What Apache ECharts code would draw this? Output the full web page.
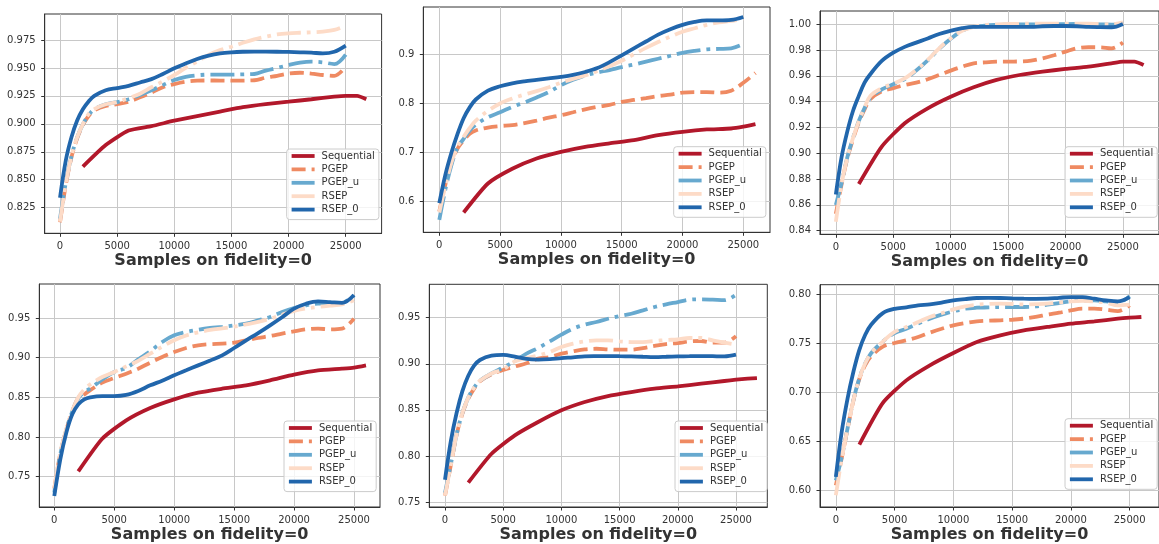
<!DOCTYPE html>
<html><head><meta charset="utf-8">
<script src="https://cdn.jsdelivr.net/npm/echarts@6/dist/echarts.min.js"></script>
<style>html,body{margin:0;padding:0;background:#fff}#c{width:1159px;height:544px}</style>
</head><body><div id="c"></div>
<script>
// ---------------- data ----------------
const SERIES_NAMES = ['Sequential', 'PGEP', 'PGEP_u', 'RSEP', 'RSEP_0'];
const X_TICKS = [0, 5000, 10000, 15000, 20000, 25000];
const X_LABEL = 'Samples on fidelity=0';

const METHOD_X = [0,500,1000,1500,2000,2500,3000,4000,5000,6000,7000,8000,9000,10000,11000,12000,13000,14000,15000,16000,17000,18000,19000,20000,21000,22000,23000,24000,25000];
const METHOD_X_EXT = [0,500,1000,1500,2000,2500,3000,4000,5000,6000,7000,8000,9000,10000,11000,12000,13000,14000,15000,16000,17000,18000,19000,20000,21000,22000,23000,24000,25000,26000];
const SEQ_X_LONG = [2000,4000,6000,8000,10000,12000,14000,16000,18000,20000,22000,24000,25000,26000,26800];
const SEQ_X_SHORT = [2000,4000,6000,8000,10000,12000,14000,16000,18000,20000,22000,24000,25000,26000];

const Y_TICKS_1 = [0.825, 0.85, 0.875, 0.9, 0.925, 0.95, 0.975];
const Y_TICKS_2 = [0.6, 0.7, 0.8, 0.9];
const Y_TICKS_3 = [0.84, 0.86, 0.88, 0.9, 0.92, 0.94, 0.96, 0.98, 1.0];
const Y_TICKS_4 = [0.75, 0.8, 0.85, 0.9, 0.95];
const Y_TICKS_5 = [0.75, 0.8, 0.85, 0.9, 0.95];
const Y_TICKS_6 = [0.6, 0.65, 0.7, 0.75, 0.8];

// panel 1
const P1_SEQ = [0.8617,0.881,0.894,0.898,0.9028,0.907,0.911,0.915,0.9177,0.9198,0.922,0.9243,0.925,0.925,0.922];
const P1_PGEP = [0.812,0.845,0.870,0.887,0.899,0.907,0.912,0.916,0.9177,0.9198,0.9237,0.928,0.9327,0.9356,0.9377,0.9386,0.9388,0.9387,0.9386,0.9387,0.939,0.9413,0.943,0.945,0.9457,0.945,0.9437,0.943,0.9512];
const P1_PGEP_U = [0.815,0.847,0.871,0.888,0.8995,0.908,0.913,0.9175,0.9195,0.922,0.9258,0.930,0.9347,0.9392,0.942,0.9434,0.944,0.944,0.944,0.9443,0.9446,0.9476,0.950,0.9526,0.9547,0.9556,0.955,0.9535,0.962];
const P1_RSEP = [0.8125,0.846,0.871,0.888,0.8997,0.9087,0.9132,0.9175,0.9195,0.923,0.927,0.9327,0.938,0.9437,0.950,0.9556,0.9616,0.966,0.969,0.9725,0.9756,0.978,0.980,0.981,0.9815,0.9819,0.9825,0.984,0.988];
const P1_RSEP_0 = [0.834,0.867,0.888,0.903,0.913,0.920,0.925,0.930,0.932,0.934,0.937,0.940,0.9446,0.9497,0.954,0.958,0.961,0.963,0.964,0.9645,0.9646,0.9646,0.9645,0.9643,0.964,0.9637,0.963,0.9645,0.970];

// panel 2
const P2_SEQ = [0.578,0.637,0.667,0.688,0.7014,0.7116,0.7187,0.7254,0.7355,0.7423,0.747,0.749,0.7527,0.758];
const P2_PGEP = [0.58,0.635,0.68,0.708,0.725,0.738,0.745,0.751,0.754,0.756,0.76,0.765,0.771,0.776,0.782,0.788,0.793,0.797,0.803,0.807,0.811,0.815,0.818,0.822,0.823,0.823,0.822,0.826,0.842,0.862];
const P2_PGEP_U = [0.563,0.625,0.675,0.71,0.728,0.745,0.757,0.772,0.782,0.793,0.802,0.812,0.823,0.837,0.848,0.857,0.863,0.868,0.874,0.879,0.885,0.891,0.897,0.903,0.907,0.910,0.911,0.912,0.921];
const P2_RSEP = [0.578,0.632,0.68,0.712,0.732,0.75,0.765,0.785,0.8,0.81,0.818,0.825,0.833,0.842,0.85,0.857,0.866,0.876,0.887,0.9,0.913,0.925,0.936,0.946,0.953,0.96,0.965,0.968,0.972];
const P2_RSEP_0 = [0.597,0.655,0.70,0.738,0.77,0.792,0.808,0.826,0.835,0.841,0.845,0.848,0.851,0.854,0.858,0.864,0.872,0.884,0.898,0.912,0.926,0.94,0.951,0.96,0.966,0.969,0.969,0.970,0.976];

// panel 3
const P3_SEQ = [0.8762,0.9052,0.9233,0.9349,0.9439,0.9512,0.9569,0.9607,0.9633,0.9654,0.9672,0.9698,0.9711,0.9711,0.9685];
const P3_PGEP = [0.853,0.876,0.896,0.911,0.924,0.934,0.942,0.948,0.9505,0.953,0.9548,0.9574,0.9607,0.9641,0.9672,0.9698,0.9705,0.971,0.9711,0.9712,0.9718,0.9736,0.976,0.9788,0.9814,0.9822,0.9822,0.9814,0.9858];
const P3_PGEP_U = [0.86,0.877,0.897,0.912,0.925,0.935,0.943,0.9495,0.9535,0.9575,0.9642,0.972,0.981,0.9888,0.995,0.998,0.999,0.9995,0.9998,1.0,1.0,1.0,1.0,1.0002,1.0003,1.0002,1.0,0.9998,1.0005];
const P3_RSEP = [0.847,0.876,0.897,0.912,0.925,0.9355,0.9445,0.9505,0.954,0.958,0.9646,0.9724,0.9814,0.989,0.995,0.998,0.9995,1.0,1.0003,1.0004,1.0005,1.0005,1.0005,1.0005,1.0006,1.0005,1.0002,1.0,1.0015];
const P3_RSEP_0 = [0.868,0.897,0.917,0.933,0.9445,0.9548,0.9613,0.9716,0.978,0.9825,0.9858,0.989,0.9925,0.995,0.997,0.998,0.998,0.998,0.998,0.998,0.998,0.9985,0.9987,0.9987,0.9985,0.998,0.9978,0.9977,1.0003];

// panel 4
const P4_SEQ = [0.7567,0.7979,0.821,0.8366,0.8475,0.8559,0.8609,0.8651,0.8714,0.8786,0.884,0.8861,0.8874,0.8903];
const P4_PGEP = [0.735,0.779,0.809,0.832,0.849,0.8538,0.8592,0.8685,0.8744,0.8798,0.8861,0.8937,0.9008,0.9071,0.9122,0.9155,0.917,0.9176,0.9189,0.9218,0.9248,0.9273,0.9303,0.9332,0.9357,0.9366,0.9357,0.9366,0.9492];
const P4_PGEP_U = [0.73,0.778,0.809,0.832,0.849,0.857,0.861,0.8727,0.882,0.887,0.8979,0.908,0.9197,0.9282,0.9324,0.9353,0.9374,0.9387,0.9408,0.9429,0.947,0.9513,0.9576,0.9626,0.966,0.968,0.968,0.969,0.9786];
const P4_RSEP = [0.735,0.78,0.81,0.833,0.85,0.86,0.8664,0.8756,0.882,0.889,0.896,0.905,0.914,0.922,0.928,0.932,0.935,0.937,0.939,0.942,0.945,0.949,0.954,0.959,0.962,0.9639,0.9655,0.967,0.9723];
const P4_RSEP_0 = [0.7256,0.7718,0.8054,0.8286,0.8412,0.8475,0.85,0.8515,0.8515,0.853,0.858,0.8651,0.871,0.8777,0.884,0.8903,0.8965,0.9029,0.9122,0.9218,0.931,0.9408,0.951,0.9618,0.968,0.971,0.970,0.969,0.979];

// panel 5
const P5_SEQ = [0.771,0.8024,0.8223,0.8368,0.8495,0.8585,0.865,0.8693,0.873,0.8755,0.8784,0.8813,0.8827,0.8838,0.8845];
const P5_PGEP = [0.757,0.79,0.823,0.846,0.862,0.873,0.881,0.8885,0.8932,0.897,0.9005,0.9055,0.9073,0.911,0.9135,0.9156,0.9163,0.9156,0.9153,0.9153,0.917,0.9193,0.9214,0.9225,0.9243,0.9247,0.9229,0.9229,0.9301];
const P5_PGEP_U = [0.76,0.791,0.8233,0.847,0.8633,0.8742,0.8815,0.8895,0.896,0.903,0.911,0.9171,0.9243,0.9316,0.9381,0.9424,0.9453,0.9489,0.9518,0.9543,0.958,0.9616,0.9645,0.967,0.9696,0.97,0.9696,0.969,0.975];
const P5_RSEP = [0.757,0.7905,0.8233,0.847,0.8633,0.8742,0.8815,0.8895,0.894,0.9026,0.9062,0.9091,0.9128,0.9182,0.9218,0.9243,0.9254,0.9254,0.9243,0.9236,0.9236,0.9247,0.9258,0.9265,0.928,0.928,0.9254,0.9229,0.9207];
const P5_RSEP_0 = [0.7741,0.816,0.8469,0.8706,0.887,0.8979,0.9041,0.9088,0.9096,0.9078,0.9052,0.9045,0.905,0.9062,0.907,0.908,0.9083,0.9084,0.9082,0.908,0.9076,0.9073,0.9076,0.908,0.9082,0.9084,0.9082,0.908,0.9099];

// panel 6
const P6_SEQ = [0.6467,0.6893,0.7124,0.7278,0.7404,0.7516,0.7584,0.7635,0.767,0.7704,0.7727,0.7755,0.7765,0.7772];
const P6_PGEP = [0.605,0.633,0.663,0.692,0.714,0.728,0.737,0.747,0.7506,0.7533,0.7567,0.7612,0.7652,0.7687,0.771,0.7727,0.7734,0.7738,0.7744,0.7755,0.7772,0.7796,0.7816,0.784,0.7857,0.7857,0.7847,0.7833,0.7891];
const P6_PGEP_U = [0.61,0.634,0.6635,0.6925,0.7145,0.7299,0.7402,0.7521,0.7608,0.7652,0.7704,0.7755,0.7796,0.783,0.7857,0.7867,0.787,0.7874,0.7874,0.7874,0.788,0.7898,0.7915,0.7932,0.794,0.7942,0.7932,0.7918,0.7986];
const P6_RSEP = [0.595,0.6325,0.6632,0.6923,0.7145,0.7299,0.7402,0.7521,0.762,0.767,0.772,0.7772,0.781,0.785,0.788,0.7898,0.7905,0.7908,0.7905,0.790,0.7903,0.7908,0.792,0.7932,0.7936,0.7932,0.7918,0.789,0.7898];
const P6_RSEP_0 = [0.6137,0.6598,0.694,0.7214,0.7436,0.759,0.7692,0.7812,0.7856,0.787,0.789,0.790,0.792,0.7942,0.7955,0.7966,0.7968,0.7966,0.7962,0.7959,0.7958,0.7959,0.7968,0.7976,0.7976,0.7959,0.7942,0.7932,0.7976];

// ---------------- layout / style ----------------
const PANELS = [
  {x: [SEQ_X_LONG, METHOD_X, METHOD_X, METHOD_X, METHOD_X], y: [P1_SEQ, P1_PGEP, P1_PGEP_U, P1_RSEP, P1_RSEP_0], yTicks: Y_TICKS_1, dec: 3,
   g: {left: 44.7, top: 14, width: 336.9, height: 219.3}, xr: [-1340, 28140], yr: [0.8021, 0.99826], leg: [286.7, 149]},
  {x: [SEQ_X_SHORT, METHOD_X_EXT, METHOD_X, METHOD_X, METHOD_X], y: [P2_SEQ, P2_PGEP, P2_PGEP_U, P2_RSEP, P2_RSEP_0], yTicks: Y_TICKS_2, dec: 1,
   g: {left: 423.3, top: 7, width: 346.7, height: 225.3}, xr: [-1316, 27196], yr: [0.53772, 0.99627], leg: [673.7, 146.7]},
  {x: [SEQ_X_LONG, METHOD_X, METHOD_X, METHOD_X, METHOD_X], y: [P3_SEQ, P3_PGEP, P3_PGEP_U, P3_RSEP, P3_RSEP_0], yTicks: Y_TICKS_3, dec: 2,
   g: {left: 820, top: 11, width: 342.4, height: 223.3}, xr: [-1379, 28140], yr: [0.83721, 1.01031], leg: [1065, 146.7]},
  {x: [SEQ_X_SHORT, METHOD_X, METHOD_X, METHOD_X, METHOD_X], y: [P4_SEQ, P4_PGEP, P4_PGEP_U, P4_RSEP, P4_RSEP_0], yTicks: Y_TICKS_4, dec: 2,
   g: {left: 39.3, top: 284, width: 340.7, height: 223}, xr: [-1251, 27169], yr: [0.71181, 0.99285], leg: [284, 421]},
  {x: [SEQ_X_LONG, METHOD_X, METHOD_X, METHOD_X, METHOD_X], y: [P5_SEQ, P5_PGEP, P5_PGEP_U, P5_RSEP, P5_RSEP_0], yTicks: Y_TICKS_5, dec: 2,
   g: {left: 429.3, top: 284.3, width: 338, height: 222.7}, xr: [-1349, 27689], yr: [0.74457, 0.98625], leg: [675, 421]},
  {x: [SEQ_X_SHORT, METHOD_X, METHOD_X, METHOD_X, METHOD_X], y: [P6_SEQ, P6_PGEP, P6_PGEP_U, P6_RSEP, P6_RSEP_0], yTicks: Y_TICKS_6, dec: 2,
   g: {left: 820, top: 284.7, width: 342.4, height: 222.3}, xr: [-1348, 27500], yr: [0.58292, 0.81022], leg: [1065, 418.7]}
];

const LW = 3.8;
const COLORS = ['#b2182b', '#ef8a62', '#67a9cf', '#fddbc7', '#2166ac'];
const DASHES = ['solid', [14, 6], [24, 6, 3.8, 6], [24, 6, 3.8, 6], 'solid'];
const SMOOTH = [0.2, 0.35, 0.35, 0.35, 0.35];
const FONT = 'DejaVu Sans';
const TXT = '#333333';
const FRAME = '#333333';
const GRIDLINE = '#c8c8c8';

const option = {
  animation: false,
  backgroundColor: '#ffffff',
  grid: [], xAxis: [], yAxis: [], series: [], legend: []
};

PANELS.forEach((p, i) => {
  option.grid.push(Object.assign({show: true, borderColor: FRAME, borderWidth: 1, backgroundColor: 'transparent', containLabel: false}, p.g));
  option.xAxis.push({
    type: 'value', gridIndex: i, min: p.xr[0], max: p.xr[1],
    axisLine: {show: true, onZero: false, lineStyle: {color: FRAME, width: 1}},
    axisTick: {show: true, customValues: X_TICKS, length: 3.5, lineStyle: {color: FRAME}},
    axisLabel: {customValues: X_TICKS, formatter: v => String(Math.round(v)), fontFamily: FONT, fontSize: 10, color: TXT, margin: 8},
    splitLine: {show: true, lineStyle: {color: GRIDLINE, width: 1}},
    name: X_LABEL, nameLocation: 'middle', nameGap: 20,
    nameTextStyle: {fontFamily: FONT, fontWeight: 'bold', fontSize: 16, color: TXT}
  });
  option.yAxis.push({
    type: 'value', gridIndex: i, min: p.yr[0], max: p.yr[1],
    axisLine: {show: true, onZero: false, lineStyle: {color: FRAME, width: 1}},
    axisTick: {show: true, customValues: p.yTicks, length: 3.5, lineStyle: {color: FRAME}},
    axisLabel: {customValues: p.yTicks, formatter: v => v.toFixed(p.dec), fontFamily: FONT, fontSize: 10, color: TXT, margin: 9},
    splitLine: {show: true, lineStyle: {color: GRIDLINE, width: 1}}
  });
  SERIES_NAMES.forEach((name, k) => {
    const xs = p.x[k], ys = p.y[k];
    option.series.push({
      type: 'line', name: name, xAxisIndex: i, yAxisIndex: i,
      data: xs.map((xv, j) => [xv, ys[j]]),
      symbol: 'none', smooth: SMOOTH[k], silent: true, z: 2 + k,
      lineStyle: {color: COLORS[k], width: LW, type: DASHES[k], cap: 'butt'},
      itemStyle: {color: COLORS[k]}
    });
  });
  option.legend.push({
    left: p.leg[0], top: p.leg[1], orient: 'vertical', data: SERIES_NAMES,
    itemWidth: 23, itemHeight: 12, itemGap: 3.4, padding: [2, 4, 5, 3],
    backgroundColor: 'rgba(255,255,255,0.8)', borderColor: '#cccccc', borderWidth: 1, borderRadius: 3,
    selectedMode: false,
    itemStyle: {opacity: 0},
    lineStyle: {width: LW},
    textStyle: {fontFamily: FONT, fontSize: 10, color: TXT, padding: [0, 0, 0, 2]}
  });
});

const chart = echarts.init(document.getElementById('c'), null, {renderer: 'canvas'});
chart.setOption(option);
</script>
</body></html>
